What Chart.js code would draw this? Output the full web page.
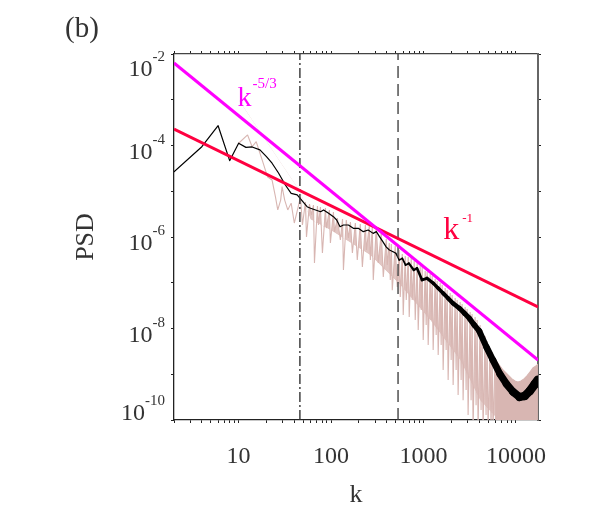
<!DOCTYPE html>
<html>
<head>
<meta charset="utf-8">
<script src="https://cdn.jsdelivr.net/npm/chart.js@4.4.0/dist/chart.umd.min.js"></script>
<style>
  html, body { margin: 0; padding: 0; background: #fff; }
</style>
</head>
<body>
<canvas id="psd-chart" width="590" height="532"></canvas>
<script>
// axis ranges
const xMin = 2, xMax = 17300;
const yMin = 1e-10, yMax = 1e-2;
const xTickValues = [10, 100, 1000, 10000];
const xTickLabels = ["10", "100", "1000", "10000"];
const yTickExps = [-2, -4, -6, -8, -10];

// averaged spectrum (black)
const meanK = [2, 4, 6, 8, 10, 12, 14, 17, 20, 23, 27, 32, 37, 43, 47, 55, 60, 68, 77, 83,
  94, 106, 115, 125, 136, 154, 174, 197, 223, 252, 285, 309, 334, 363, 394, 427, 463, 502, 545, 590,
  640, 694, 784, 850, 964, 1090, 1280, 1440, 1630, 1840, 2080, 2450, 2770, 3130, 3540, 4000, 4800, 5620, 6700, 7900,
  9300, 10900, 12400, 14100, 16000, 17270];
const meanPsd = [2.67e-5, 9.4e-5, 2.71e-4, 4.66e-5, 1.12e-4, 9.1e-5, 9.3e-5, 8.0e-5, 5.7e-5, 4.1e-5, 2.5e-5, 1.37e-5, 9.0e-6, 8.3e-6, 6.7e-6, 4.6e-6, 4.24e-6, 3.9e-6, 3.57e-6, 3.9e-6,
  3.3e-6, 2.78e-6, 2.35e-6, 1.68e-6, 1.83e-6, 1.83e-6, 1.55e-6, 1.55e-6, 1.31e-6, 1.42e-6, 1.2e-6, 1.31e-6, 1.02e-6, 7.9e-7, 6.1e-7, 5.2e-7, 4.8e-7, 4.4e-7, 3.14e-7, 3.42e-7,
  2.44e-7, 2.66e-7, 1.9e-7, 2.07e-7, 1.15e-7, 1.25e-7, 9.7e-8, 7.6e-8, 5.9e-8, 4.6e-8, 3.56e-8, 2.76e-8, 2.15e-8, 1.67e-8, 1.19e-8, 8.8e-9, 3.9e-9, 2.05e-9, 1.01e-9, 6.1e-10,
  4.1e-10, 3.18e-10, 3.35e-10, 4.3e-10, 6.1e-10, 7.5e-10];

// raw spectrum (light)
const rawK = [10, 12.5, 14, 15.5, 18, 20.5, 23, 25, 26.5, 28.5, 29.5, 31.5, 34, 37, 40,
  46.7, 49, 52.8, 54.2, 58.4, 61.4, 64.5, 66.1, 71.2, 73, 76.7, 80.6, 86.9, 89, 95.9, 98.3, 106, 109, 117, 126,
  133, 136, 146, 154, 162, 170, 183, 192, 207, 218, 235, 241, 259, 266, 279, 286, 308, 324, 349, 367,
  395, 405, 426, 437, 448, 459, 494, 520, 546, 560, 589, 603, 634, 650, 683, 700, 736, 754, 793, 813,
  854, 876, 920, 944, 967, 992, 1042, 1068, 1095, 1123, 1180, 1210, 1240, 1271, 1336, 1370, 1404, 1440, 1513, 1551,
  1590, 1630, 1713, 1756, 1800, 1846, 1940, 1989, 2039, 2090, 2197, 2252, 2309, 2366, 2487, 2550,
  2614, 2679, 2816, 2887, 2960, 3034, 3189, 3269, 3351, 3435, 3611, 3702, 3795, 3890, 4088, 4191, 4296, 4404,
  4629, 4746, 4865, 4987, 5240, 5372, 5507, 5645, 5934];
const rawPsd = [1.12e-4, 1.7e-4, 9.4e-5, 1.21e-4, 4.8e-5, 2.08e-5, 1.76e-5, 7.6e-6, 3.9e-6, 6.4e-6, 1.26e-5, 6.4e-6, 3.9e-6, 5.5e-6, 2.02e-6,
  7.48e-6, 1.83e-6, 5.82e-6, 1.0e-6, 5.26e-6, 3.03e-6, 5.0e-6, 2.7e-7, 4.76e-6, 1.83e-6, 4.52e-6, 4.47e-7, 4.3e-6, 1.57e-6, 3.89e-6, 7.39e-7, 3.52e-6, 1.29e-6, 2.6e-6, 8.6e-7,
  2.47e-6, 1.9e-7, 2.35e-6, 9.5e-7, 2.13e-6, 4.47e-7, 2.02e-6, 3.14e-7, 1.92e-6, 2.21e-7, 1.83e-6, 5.2e-7, 1.74e-6, 3.14e-7, 1.65e-6, 1.15e-7, 1.57e-6, 2.7e-7, 1.29e-6, 1.34e-7,
  9.0e-7, 2.44e-7, 7.39e-7, 1.15e-7, 7.03e-7, 6.9e-8, 6.36e-7, 8.1e-8, 5.2e-7, 4.88e-8, 4.25e-7, 1.97e-8, 3.84e-7, 4.2e-8, 3.65e-7, 1.78e-8, 3.48e-7, 4.2e-8, 2.99e-7, 1.53e-8,
  2.7e-7, 9.3e-9, 2.32e-7, 2.54e-8, 2.21e-7, 5.6e-9, 1.81e-7, 1.19e-8, 1.72e-7, 4.36e-9, 1.55e-7, 1.53e-8, 1.4e-7, 3.39e-9, 1.21e-7, 7.2e-9, 1.09e-7, 2.64e-9, 9.9e-8, 4.36e-9,
  8.9e-8, 1.24e-9, 7.7e-8, 3.39e-9, 6.9e-8, 7.5e-10, 5.97e-8, 2.05e-9, 5.4e-8, 5.8e-10, 4.64e-8, 1.24e-9, 4.2e-8, 3.5e-10, 3.8e-8, 7.5e-10,
  3.43e-8, 2.7e-10, 2.95e-8, 4.5e-10, 2.67e-8, 1.28e-10, 2.29e-8, 2.7e-10, 2.07e-8, 6e-11, 1.78e-8, 2.1e-10, 1.53e-8, 6e-11, 1.19e-8, 1.65e-10, 9.3e-9, 6e-11,
  6.86e-9, 1.28e-10, 5.33e-9, 6e-11, 3.75e-9, 6e-11, 3.06e-9, 6e-11, 2.27e-9];
// lower edge of the dense part of the raw spectrum
const rawBandK = [10, 46, 60, 98, 266, 560, 1180, 2487, 4088, 5934];
const rawBandPsd = [1e-3, 1e-5, 2.4e-6, 1.42e-6, 4.0e-7, 8.9e-8, 1.53e-8, 2.05e-9, 2.7e-10, 1.2e-10];
// high-k part of the raw spectrum, where it fills down to the axis
const rawTailK = [5934, 6236, 6719, 7238, 7798, 8402, 9051, 9752, 10507, 11322, 12197, 13142, 14159, 15255, 16434, 17272];
const rawTailPsd = [2.27e-9, 1.85e-9, 1.51e-9, 1.24e-9, 1.07e-9, 9.2e-10, 7.9e-10, 7.1e-10, 6.8e-10, 7.1e-10, 7.9e-10, 9.2e-10, 1.12e-9, 1.37e-9, 1.51e-9, 1.67e-9];

// reference slopes, end points
const fitK = [2, 17300];
const fitSlope53 = [6.36e-3, 2.05e-9];
const fitSlope1 = [2.29e-4, 2.95e-8];

// vertical markers
const markerK = [46, 530];

const pink = "rgb(216,182,178)";
const magenta = "#ff00ff";
const red = "#ff0040";
const textColor = "#333";

Chart.defaults.font.family = '"Liberation Serif", "DejaVu Serif", serif';

const toPoints = (xs, ys) => xs.map((x, i) => ({ x: x, y: ys[i] }));

function decadeTicks(min, max) {
  const out = [];
  for (let e = 0; e <= 4; e++) {
    for (let m = 1; m <= 9; m++) {
      const v = m * Math.pow(10, e);
      if (v >= min && v <= max) out.push({ value: v });
    }
  }
  return out;
}

function yDecadeTicks(s) {
  const t = [];
  for (let e = -10; e <= -2; e++) t.push({ value: Math.pow(10, e) });
  s.ticks = t;
}

// line gets thicker where the averaged spectrum is noisy
const bandWidth = k => Math.min(9, Math.max(1.2, 1.2 + (Math.log10(k) - 2.7) * 5));

// y tick labels as 10 with a raised exponent, plus the panel letter
const expLabels = {
  id: "expLabels",
  afterDraw(chart) {
    const { ctx, chartArea } = chart;
    const y = chart.scales.y;
    const right = y.right - 9;
    ctx.save();
    ctx.fillStyle = textColor;
    ctx.textAlign = "right";
    ctx.textBaseline = "alphabetic";
    yTickExps.forEach(e => {
      let top = y.getPixelForValue(Math.pow(10, e)) - 10;
      top = Math.min(Math.max(top, chartArea.top - 1), chartArea.bottom - 23);
      const sup = String(e);
      ctx.font = '15px "Liberation Serif"';
      const w = ctx.measureText(sup).width;
      ctx.fillText(sup, right, top + 8);
      ctx.font = '24px "Liberation Serif"';
      ctx.fillText("10", right - w, top + 23);
    });
    ctx.font = '29px "Liberation Serif"';
    ctx.textAlign = "left";
    ctx.fillText("(b)", 65, 37);
    ctx.restore();
  }
};

const slopeText = [
  { sup: "-5/3", k: 9.75, psd: 7.3e-4, color: magenta, size: 28, supSize: 15, rise: 18, gap: 1 },
  { sup: "-1", k: 1630, psd: 9.0e-7, color: red, size: 32, supSize: 13, rise: 17, gap: 3 }
];

const slopeLabels = {
  id: "slopeLabels",
  afterDatasetsDraw(chart) {
    const { ctx } = chart;
    ctx.save();
    ctx.textAlign = "left";
    ctx.textBaseline = "alphabetic";
    slopeText.forEach(t => {
      const px = chart.scales.x.getPixelForValue(t.k);
      const py = chart.scales.y.getPixelForValue(t.psd);
      ctx.fillStyle = t.color;
      ctx.font = t.size + 'px "Liberation Serif"';
      ctx.fillText("k", px, py);
      const w = ctx.measureText("k").width;
      ctx.font = t.supSize + 'px "Liberation Serif"';
      ctx.fillText(t.sup, px + w + t.gap, py - t.rise);
    });
    ctx.restore();
  }
};

const gridOpts = { drawOnChartArea: false, tickLength: 3, tickColor: "#222", tickWidth: 1 };

new Chart(document.getElementById("psd-chart"), {
  type: "line",
  data: {
    datasets: [
      { data: toPoints(fitK, fitSlope53), borderColor: magenta, borderWidth: 3, order: 0 },
      { data: toPoints(fitK, fitSlope1), borderColor: red, borderWidth: 3, order: 0 },
      { data: [{ x: markerK[0], y: yMin }, { x: markerK[0], y: yMax }], borderColor: "#333", borderWidth: 1.4, borderDash: [10, 3, 2, 3], order: 1 },
      { data: [{ x: markerK[1], y: yMin }, { x: markerK[1], y: yMax }], borderColor: "#444", borderWidth: 1.4, borderDash: [12, 6], order: 1 },
      {
        data: toPoints(meanK, meanPsd), borderColor: "#000", borderWidth: 1.2, order: 2,
        borderCapStyle: "round", borderJoinStyle: "round",
        segment: { borderWidth: c => bandWidth(c.p1.parsed.x) }
      },
      {
        data: toPoints(rawK, rawPsd), borderColor: pink, borderWidth: 1.1, borderJoinStyle: "bevel", order: 3,
        fill: { target: 7, above: "rgba(222,192,188,0.9)", below: "rgba(0,0,0,0)" }
      },
      { data: toPoints(rawTailK, rawTailPsd), borderColor: pink, backgroundColor: pink, borderWidth: 1.1, fill: "start", order: 3 },
      { data: toPoints(rawBandK, rawBandPsd), borderColor: "rgba(0,0,0,0)", borderWidth: 0, order: 4 }
    ]
  },
  options: {
    responsive: false,
    animation: false,
    devicePixelRatio: 1,
    layout: { padding: 0 },
    elements: { point: { radius: 0 }, line: { tension: 0 } },
    plugins: { legend: { display: false }, tooltip: { enabled: false }, filler: { propagate: false } },
    scales: {
      x: {
        type: "logarithmic", position: "bottom", min: xMin, max: xMax,
        afterFit: s => { s.height = 112; },
        afterBuildTicks: s => { s.ticks = decadeTicks(xMin, xMax); },
        ticks: {
          autoSkip: false, maxRotation: 0, padding: 19, color: textColor, font: { size: 24 },
          callback: v => xTickLabels[xTickValues.indexOf(v)] || ""
        },
        grid: gridOpts,
        border: { color: "#222", width: 1.3 },
        title: { display: true, text: "k", color: textColor, font: { size: 26 }, padding: { bottom: 21 } }
      },
      x2: {
        type: "logarithmic", position: "top", min: xMin, max: xMax,
        afterFit: s => { s.height = 54; },
        afterBuildTicks: s => { s.ticks = decadeTicks(xMin, xMax); },
        ticks: { display: false },
        grid: gridOpts,
        border: { color: "#444", width: 1.2 }
      },
      y: {
        type: "logarithmic", position: "left", min: yMin, max: yMax,
        afterFit: s => { s.width = 174; },
        afterBuildTicks: yDecadeTicks,
        ticks: { display: false },
        grid: gridOpts,
        border: { color: "#222", width: 1.3 },
        title: { display: true, text: "PSD", color: textColor, font: { size: 26 }, padding: { top: 71 } }
      },
      y2: {
        type: "logarithmic", position: "right", min: yMin, max: yMax,
        afterFit: s => { s.width = 52; },
        afterBuildTicks: yDecadeTicks,
        ticks: { display: false },
        grid: gridOpts,
        border: { color: "#666", width: 2 }
      }
    }
  },
  plugins: [expLabels, slopeLabels]
});
</script>
</body>
</html>
